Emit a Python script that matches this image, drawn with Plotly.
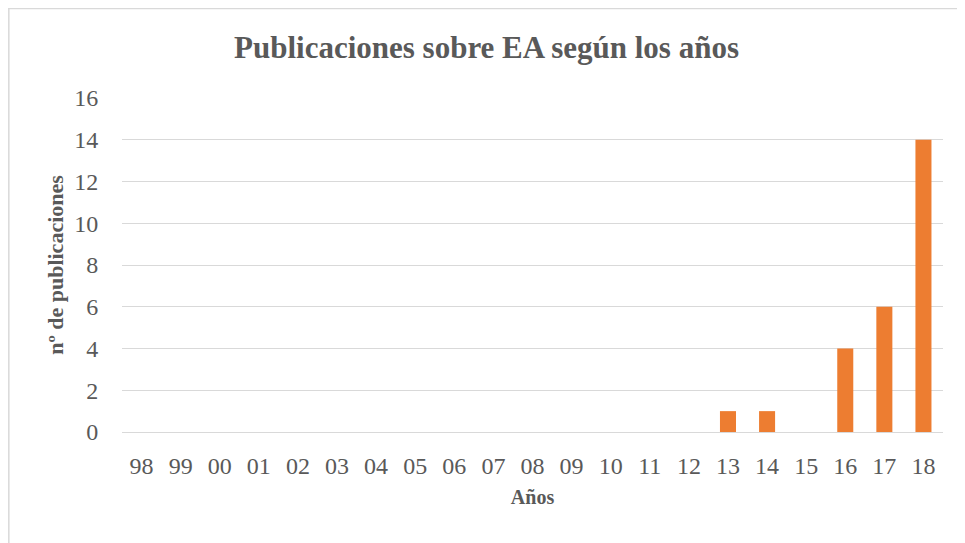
import plotly.graph_objects as go

# Data
years = ["98", "99", "00", "01", "02", "03", "04", "05", "06", "07", "08",
         "09", "10", "11", "12", "13", "14", "15", "16", "17", "18"]
publicaciones = [0, 0, 0, 0, 0, 0, 0, 0, 0, 0, 0,
                 0, 0, 0, 0, 1, 1, 0, 4, 6, 14]
y_ticks = [0, 2, 4, 6, 8, 10, 12, 14, 16]

_TEXT = "#595959"
_GRID = "#D9D9D9"
_BAR = "#ED7D31"
_FONT = "Liberation Serif"

# page body has an 8px margin, so the figure is sized to fit inside it
W, H = 957, 535

fig = go.Figure(go.Bar(
    x=years,
    y=publicaciones,
    marker=dict(color=_BAR, line=dict(width=0)),
    hoverinfo="x+y",
))

fig.update_layout(
    width=W,
    height=H,
    paper_bgcolor="white",
    plot_bgcolor="white",
    margin=dict(l=114, r=22, t=90, b=111),
    bargap=0.59,
    showlegend=False,
    font=dict(family=_FONT, color=_TEXT),
    title=dict(
        text="<b>Publicaciones sobre EA según los años</b>",
        font=dict(family=_FONT, size=31, color=_TEXT),
        x=0.5, xanchor="center",
        y=1 - 39 / H, yanchor="middle", yref="container",
    ),
    xaxis=dict(
        type="category",
        showgrid=False,
        showline=False,
        ticks="outside",
        ticklen=12,
        tickcolor="rgba(0,0,0,0)",
        tickfont=dict(family=_FONT, size=24, color=_TEXT),
        title=dict(text="<b>Años</b>", font=dict(family=_FONT, size=20, color=_TEXT),
                   standoff=12),
    ),
    yaxis=dict(
        range=[0, 16],
        tickvals=y_ticks,
        showgrid=True,
        gridcolor=_GRID,
        gridwidth=1,
        zeroline=True,
        zerolinecolor=_GRID,
        zerolinewidth=1,
        showline=False,
        ticks="outside",
        ticklen=18,
        tickcolor="rgba(0,0,0,0)",
        tickfont=dict(family=_FONT, size=24, color=_TEXT),
        title=dict(text="<b>nº de publicaciones</b>",
                   font=dict(family=_FONT, size=22, color=_TEXT), standoff=4),
    ),
    shapes=[
        dict(type="line", xref="paper", yref="paper",
             x0=-114 / 821 + 0.001, x1=-114 / 821 + 0.001, y0=-111 / 334, y1=1 + 90 / 334,
             line=dict(color="#D9D9D9", width=1.5)),
        dict(type="line", xref="paper", yref="paper",
             x0=-114 / 821, x1=1 + 22 / 821, y0=1 + 89.5 / 334, y1=1 + 89.5 / 334,
             line=dict(color="#D9D9D9", width=1.5)),
    ],
)

fig.write_html("out.html")
